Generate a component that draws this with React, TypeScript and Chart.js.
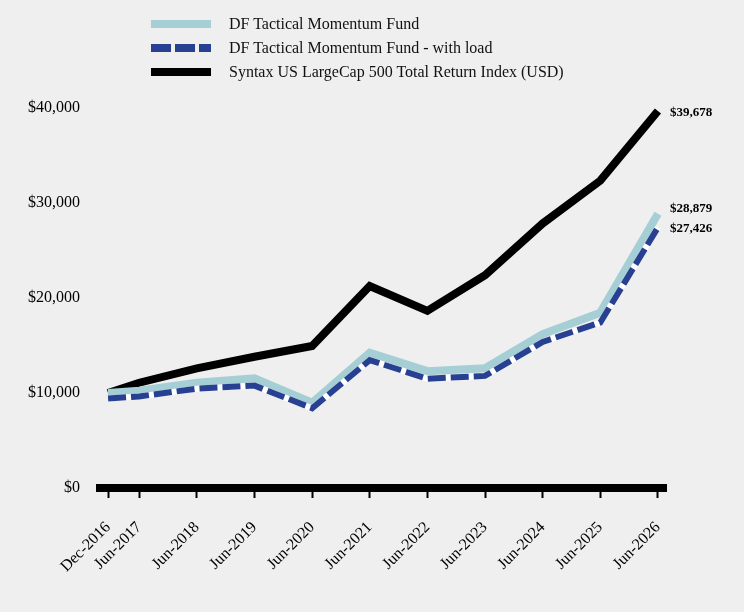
import { useEffect, useRef } from "react";
import { Chart, registerables } from "chart.js";

Chart.register(...registerables);

const FONT = "'Liberation Serif', 'Times New Roman', serif";

const periods = [
  "Dec-2016",
  "Jun-2017",
  "Jun-2018",
  "Jun-2019",
  "Jun-2020",
  "Jun-2021",
  "Jun-2022",
  "Jun-2023",
  "Jun-2024",
  "Jun-2025",
  "Jun-2026",
];
// position of each period on the time axis (in years)
const periodYears = [2016.96, 2017.5, 2018.5, 2019.5, 2020.5, 2021.5, 2022.5, 2023.5, 2024.5, 2025.5, 2026.5];

const fund = [10000, 10240, 11090, 11540, 8980, 14240, 12300, 12600, 16210, 18460, 28879];
const fundWithLoad = [9425, 9640, 10460, 10780, 8400, 13460, 11500, 11800, 15380, 17420, 27426];
const indexReturn = [10000, 11080, 12600, 13820, 14950, 21260, 18650, 22400, 27850, 32350, 39678];

const yTicks = [0, 10000, 20000, 30000, 40000];

const COLOR_FUND = "#a6cfd5";
const COLOR_LOAD = "#284091";
const COLOR_INDEX = "#000000";

const toPoints = (values: number[]) => values.map((y, i) => ({ x: periodYears[i], y }));

const money = (v: number) => "$" + v.toLocaleString("en-US");

// value labels next to the last point of each series
const endLabels = {
  id: "endLabels",
  afterDatasetsDraw(chart: any) {
    const ctx = chart.ctx;
    ctx.save();
    ctx.font = `bold 13px ${FONT}`;
    ctx.fillStyle = "#000";
    ctx.textAlign = "left";
    ctx.textBaseline = "middle";
    chart.data.datasets.forEach((ds: any, i: number) => {
      if (ds.endShift === undefined) return;
      const pts = chart.getDatasetMeta(i).data;
      const last = pts[pts.length - 1];
      const value = ds.data[ds.data.length - 1].y;
      ctx.fillText(money(value), last.x + 12, last.y + ds.endShift);
    });
    ctx.restore();
  },
};

function LegendRow({ sample, label, top }: { sample: React.CSSProperties; label: string; top: number }) {
  return (
    <div style={{ position: "absolute", left: 151, top, height: 24, display: "flex", alignItems: "center" }}>
      <div style={{ width: 60, height: 8, ...sample }} />
      <span style={{ marginLeft: 18, fontFamily: FONT, fontSize: 16, color: "#111", whiteSpace: "nowrap" }}>{label}</span>
    </div>
  );
}

export default function App() {
  const canvasRef = useRef<HTMLCanvasElement>(null);
  const chartRef = useRef<Chart | null>(null);

  useEffect(() => {
    const ctx = canvasRef.current?.getContext("2d");
    if (!ctx) return;

    chartRef.current?.destroy();
    chartRef.current = new Chart(ctx, {
      type: "line",
      data: {
        datasets: [
          {
            label: "DF Tactical Momentum Fund - with load",
            data: toPoints(fundWithLoad),
            borderColor: COLOR_LOAD,
            borderWidth: 6,
            borderDash: [18, 5],
            pointRadius: 0,
            tension: 0,
            order: 1,
            endShift: 1,
          } as any,
          {
            label: "",
            data: toPoints(fundWithLoad),
            borderColor: "#ffffff",
            borderWidth: 6,
            pointRadius: 0,
            tension: 0,
            order: 2,
          },
          {
            label: "DF Tactical Momentum Fund",
            data: toPoints(fund),
            borderColor: COLOR_FUND,
            borderWidth: 8,
            pointRadius: 0,
            tension: 0,
            order: 3,
            endShift: -5,
          } as any,
          {
            label: "Syntax US LargeCap 500 Total Return Index (USD)",
            data: toPoints(indexReturn),
            borderColor: COLOR_INDEX,
            borderWidth: 8,
            pointRadius: 0,
            tension: 0,
            order: 4,
            endShift: 2,
          } as any,
        ],
      },
      options: {
        responsive: false,
        animation: false,
        layout: { padding: { top: 108, right: 78, left: 0, bottom: 0 } },
        plugins: { legend: { display: false }, tooltip: { enabled: false } },
        scales: {
          x: {
            type: "linear",
            min: 2016.82,
            max: 2026.64,
            border: { display: true, color: "#000", width: 8 },
            grid: {
              drawOnChartArea: false,
              drawTicks: true,
              tickLength: 10,
              tickColor: "#000",
              tickWidth: 2,
            },
            afterBuildTicks: (scale: any) => {
              scale.ticks = periodYears.map((value) => ({ value }));
            },
            afterFit: (scale: any) => {
              scale.height = 124;
            },
            ticks: {
              autoSkip: false,
              minRotation: 45,
              maxRotation: 45,
              padding: 20,
              color: "#000",
              font: { family: FONT, size: 16 },
              callback: (_v: any, i: number) => periods[i],
            },
          },
          y: {
            min: 0,
            max: 40000,
            border: { display: false },
            grid: { display: false, drawTicks: false },
            afterBuildTicks: (scale: any) => {
              scale.ticks = yTicks.map((value) => ({ value }));
            },
            afterFit: (scale: any) => {
              scale.width = 100;
            },
            ticks: {
              padding: 20,
              color: "#000",
              font: { family: FONT, size: 16 },
              callback: (v: any) => money(Number(v)),
            },
          },
        },
      },
      plugins: [endLabels],
    });

    return () => {
      chartRef.current?.destroy();
      chartRef.current = null;
    };
  }, []);

  return (
    <div style={{ position: "absolute", left: 0, top: 0, width: 744, height: 612, background: "#efefef", overflow: "hidden" }}>
      <canvas ref={canvasRef} width={744} height={612} style={{ position: "absolute", left: 0, top: 0 }} />
      <LegendRow top={12} label="DF Tactical Momentum Fund" sample={{ background: COLOR_FUND }} />
      <LegendRow
        top={36}
        label="DF Tactical Momentum Fund - with load"
        sample={{ background: `repeating-linear-gradient(to right, ${COLOR_LOAD} 0 20px, transparent 20px 24px)` }}
      />
      <LegendRow top={60} label="Syntax US LargeCap 500 Total Return Index (USD)" sample={{ background: COLOR_INDEX }} />
    </div>
  );
}
